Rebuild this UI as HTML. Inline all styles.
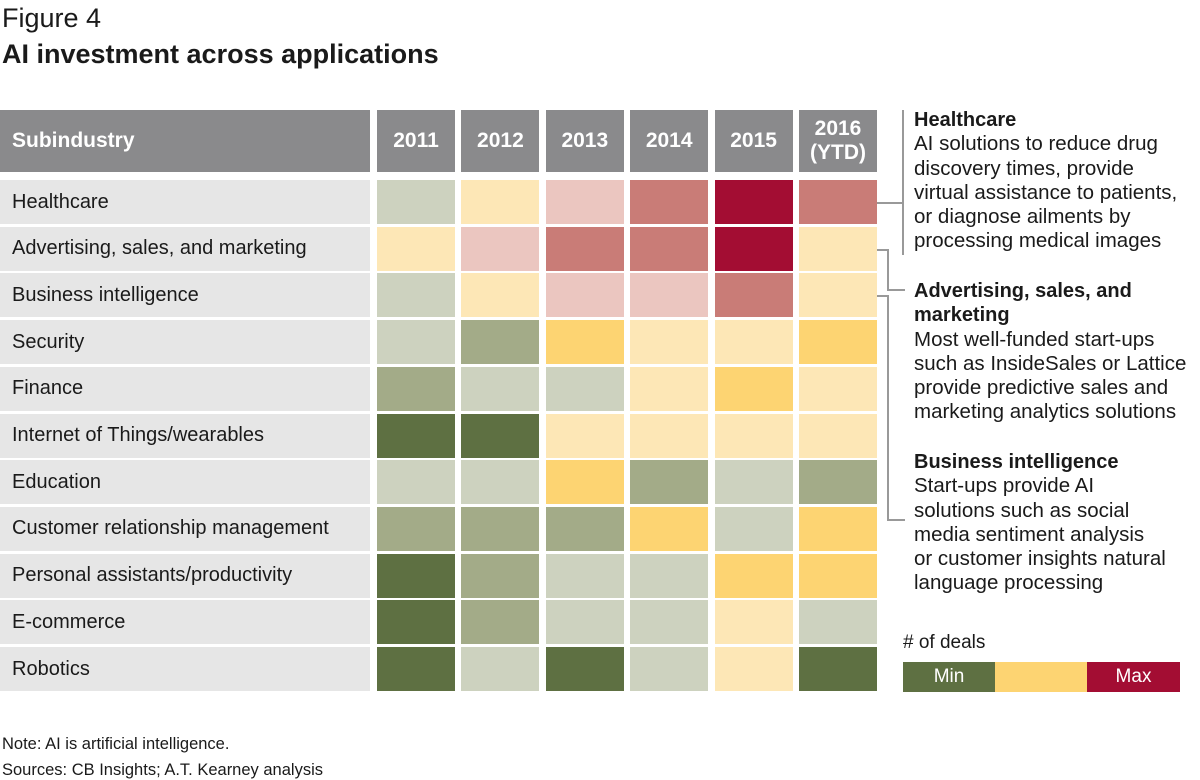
<!DOCTYPE html>
<html><head><meta charset="utf-8"><style>
body{margin:0;background:#fff;font-family:"Liberation Sans",sans-serif;color:#1a1a1a}
#root{position:relative;width:1200px;height:780px;overflow:hidden}
.abs{position:absolute}
.hdr{background:#8a8a8c;color:#fff;font-weight:bold;font-size:21px;display:flex;align-items:center;justify-content:center;text-align:center;line-height:24px}
.lbl{background:#e6e6e6;font-size:20px;display:flex;align-items:center;padding-left:12px;box-sizing:border-box}
.ann{font-size:20.5px;line-height:24.3px;left:914px;white-space:nowrap}
.ann b{font-size:20px}
</style></head><body>
<div id="root">
<div class="abs" style="left:2px;top:3px;font-size:27px">Figure 4</div>
<div class="abs" style="left:2px;top:39px;font-size:27px;font-weight:bold">AI investment across applications</div>
<div class="abs hdr" style="left:0;top:110px;width:370px;height:62px;justify-content:flex-start;padding-left:12px;box-sizing:border-box">Subindustry</div>
<div id="grid"></div>
<svg class="abs" style="left:0;top:0" width="1200" height="780">
<g stroke="#999" stroke-width="2" fill="none">
<path d="M903 110 V255 M877 203 H903"/>
<path d="M877 250 H888 V290 H905"/>
<path d="M877 296 H888 V520 H905"/>
</g></svg>
<div class="abs ann" style="top:108px"><b>Healthcare</b><br>AI solutions to reduce drug<br>discovery times, provide<br>virtual assistance to patients,<br>or diagnose ailments by<br>processing medical images</div>
<div class="abs ann" style="top:279px"><b>Advertising, sales, and<br>marketing</b><br>Most well-funded start-ups<br>such as InsideSales or Lattice<br>provide predictive sales and<br>marketing analytics solutions</div>
<div class="abs ann" style="top:450px"><b>Business intelligence</b><br>Start-ups provide AI<br>solutions such as social<br>media sentiment analysis<br>or customer insights natural<br>language processing</div>
<div class="abs" style="left:903px;top:632px;font-size:19px"># of deals</div>
<div class="abs" style="left:903px;top:662px;width:92px;height:30px;background:#5e7042;color:#fff;font-size:19px;display:flex;align-items:center;justify-content:center">Min</div>
<div class="abs" style="left:995px;top:662px;width:92px;height:30px;background:#fdd472"></div>
<div class="abs" style="left:1087px;top:662px;width:93px;height:30px;background:#a30d33;color:#fff;font-size:19px;display:flex;align-items:center;justify-content:center">Max</div>
<div class="abs" style="left:2px;top:735px;font-size:16.5px">Note: AI is artificial intelligence.</div>
<div class="abs" style="left:2px;top:761px;font-size:16.5px">Sources: CB Insights; A.T. Kearney analysis</div>
</div>
<script>
const years=["2011","2012","2013","2014","2015","2016<br>(YTD)"];
const categories=["Healthcare","Advertising, sales, and marketing","Business intelligence","Security","Finance","Internet of Things/wearables","Education","Customer relationship management","Personal assistants/productivity","E-commerce","Robotics"];
const levels=[
[2,3,5,6,7,6],
[3,5,6,6,7,3],
[2,3,5,5,6,3],
[2,1,4,3,3,4],
[1,2,2,3,4,3],
[0,0,3,3,3,3],
[2,2,4,1,2,1],
[1,1,1,4,2,4],
[0,1,2,2,4,4],
[0,1,2,2,3,2],
[0,2,0,2,3,0]];
const palette=["#5e7042","#a3ab88","#cdd2bf","#fde7b6","#fdd472","#ebc6c0","#c97c77","#a30d33"];
const g=document.getElementById('root');
const colX=i=>377+i*84.4, colW=78, rowY=i=>180+i*46.7, rowH=44;
years.forEach((y,i)=>{const d=document.createElement('div');d.className='abs hdr';


d.style.cssText=`left:${colX(i)}px;top:110px;width:${colW}px;height:62px`;d.innerHTML=y;g.appendChild(d);});
categories.forEach((c,r)=>{const l=document.createElement('div');l.className='abs lbl';


l.style.cssText=`left:0;top:${rowY(r)}px;width:370px;height:${rowH}px`;l.textContent=c;g.appendChild(l);
levels[r].forEach((v,i)=>{const d=document.createElement('div');d.className='abs';


d.style.cssText=`left:${colX(i)}px;top:${rowY(r)}px;width:${colW}px;height:${rowH}px;background:${palette[v]}`;g.appendChild(d);});});
</script>
</body></html>
